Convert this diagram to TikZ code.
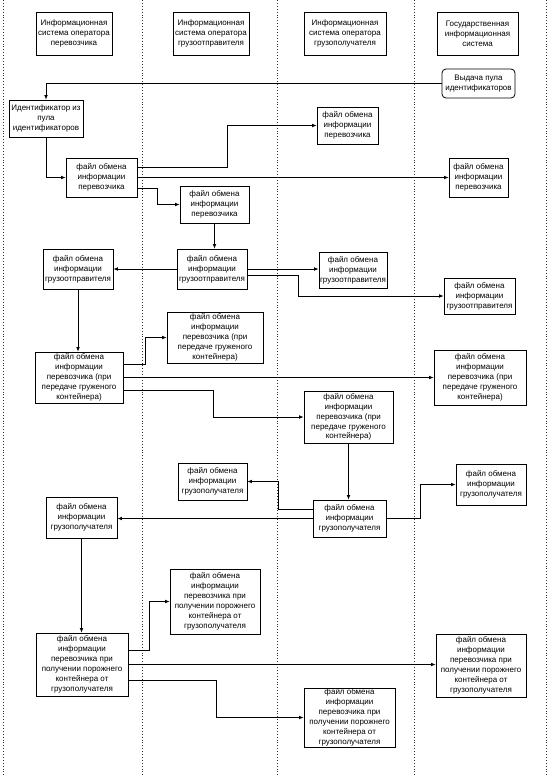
\documentclass[tikz,border=0pt]{standalone}
\usepackage{fontspec}
\setmainfont{Liberation Sans}
\usetikzlibrary{arrows.meta,calc}
\begin{document}
\begin{tikzpicture}[x=1pt,y=-1pt,
  box/.style={draw=black,line width=0.8pt,fill=white,inner sep=0pt,align=center,
    font=\fontsize{8pt}{9.9pt}\selectfont},
  rbox/.style={box,rounded corners=4pt},
  lane/.style={dotted,line width=0.9pt,black!80},
  arr/.style={line width=0.8pt,-{Latex[length=4.5pt,width=3.8pt]}},
  ln/.style={line width=0.8pt}]
\useasboundingbox (0,0) rectangle (552,782);
% lanes
\foreach \xx in {3,142,277,414,546} \draw[lane] (\xx,0) -- (\xx,775);
% headers
\node[box,minimum width=76pt,minimum height=43pt] (H1) at (74,33.5) {Информационная\\система оператора\\перевозчика};
\node[box,minimum width=76pt,minimum height=43pt] (H2) at (211,33.5) {Информационная\\система оператора\\грузоотправителя};
\node[box,minimum width=82pt,minimum height=43pt] (H3) at (345,33.5) {Информационная\\система оператора\\грузополучателя};
\node[box,minimum width=81pt,minimum height=43pt] (H4) at (477.5,33.5) {Государственная\\информационная\\система};
% nodes
\node[rbox,minimum width=73pt,minimum height=29pt] (G) at (478.5,83.5) {Выдача пула\\идентификаторов};
\node[box,minimum width=74pt,minimum height=37pt] (ID) at (46,118.5) {Идентификатор из\\пула\\идентификаторов};
\node[box,minimum width=71pt,minimum height=39pt] (A1) at (101.5,177.5) {файл обмена\\информации\\перевозчика};
\node[box,minimum width=61pt,minimum height=37pt] (B1) at (347.5,125.5) {файл обмена\\информации\\перевозчика};
\node[box,minimum width=59pt,minimum height=39pt] (D1) at (478.5,177.5) {файл обмена\\информации\\перевозчика};
\node[box,minimum width=69pt,minimum height=37pt] (C1) at (214.5,204.5) {файл обмена\\информации\\перевозчика};
\node[box,minimum width=70pt,minimum height=40pt] (C2) at (212,269) {файл обмена\\информации\\грузоотправителя};
\node[box,minimum width=70pt,minimum height=40pt] (A2) at (78,269) {файл обмена\\информации\\грузоотправителя};
\node[box,minimum width=68pt,minimum height=36pt] (B2) at (353,270) {файл обмена\\информации\\грузоотправителя};
\node[box,minimum width=71pt,minimum height=36pt] (D2) at (479.5,296) {файл обмена\\информации\\грузоотправителя};
\node[box,minimum width=88pt,minimum height=51pt] (A3) at (79,377.5) {файл обмена\\информации\\перевозчика (при\\передаче груженого\\контейнера)};
\node[box,minimum width=96pt,minimum height=51pt] (C3) at (215,337.5) {файл обмена\\информации\\перевозчика (при\\передаче груженого\\контейнера)};
\node[box,minimum width=92pt,minimum height=55pt] (D3) at (480,377.5) {файл обмена\\информации\\перевозчика (при\\передаче груженого\\контейнера)};
\node[box,minimum width=89pt,minimum height=52pt] (B3) at (348.5,417) {файл обмена\\информации\\перевозчика (при\\передаче груженого\\контейнера)};
\node[box,minimum width=73pt,minimum height=37pt] (B4) at (349.5,518.5) {файл обмена\\информации\\грузополучателя};
\node[box,minimum width=69pt,minimum height=37pt] (C4) at (212.5,481.5) {файл обмена\\информации\\грузополучателя};
\node[box,minimum width=71pt,minimum height=41pt] (A4) at (81.5,517.5) {файл обмена\\информации\\грузополучателя};
\node[box,minimum width=70pt,minimum height=41pt] (D4) at (491,484.5) {файл обмена\\информации\\грузополучателя};
\node[box,minimum width=92pt,minimum height=63pt] (A5) at (82,664.5) {файл обмена\\информации\\перевозчика при\\получении порожнего\\контейнера от\\грузополучателя};
\node[box,minimum width=90pt,minimum height=65pt] (C5) at (215,601.5) {файл обмена\\информации\\перевозчика при\\получении порожнего\\контейнера от\\грузополучателя};
\node[box,minimum width=90pt,minimum height=63pt] (D5) at (481,665.5) {файл обмена\\информации\\перевозчика при\\получении порожнего\\контейнера от\\грузополучателя};
\node[box,minimum width=91pt,minimum height=59pt] (B5) at (349.5,717.5) {файл обмена\\информации\\перевозчика при\\получении порожнего\\контейнера от\\грузополучателя};
% connectors
\draw[arr] (G.west) -| (ID.north);
\draw[arr] (ID.south) |- (A1.west);
\draw[arr] ([yshift=10.5pt]A1.east) -- ++(90,0) |- (B1.west);
\draw[arr] (A1.east) -- (D1.west);
\draw[arr] ([yshift=-10.5pt]A1.east) -- ++(20,0) |- (C1.west);
\draw[arr] (C1.south) -- (C1.south |- C2.north);
\draw[arr] (C2.west) -- (A2.east);
\draw[arr] (C2.east) -- (C2.east -| B2.west);
\draw[arr] ([yshift=-6pt]C2.east) -- ++(51,0) |- (D2.west);
\draw[arr] (A2.south) -- (A2.south |- A3.north);
\draw[arr] ([yshift=13.5pt]A3.east) -- ++(22,0) |- (C3.west);
\draw[arr] (A3.east) -- (D3.west);
\draw[arr] ([yshift=-12.5pt]A3.east) -- ++(90,0) |- (B3.west);
\draw[arr] (B3.south) -- (B3.south |- B4.north);
\draw[arr] ([yshift=9.5pt]B4.west) -- ++(-34,0) |- (C4.east);
\draw[arr] (B4.west) -- (B4.west -| A4.east);
\draw[arr] (B4.east) -- ++(34,0) |- (D4.west);
\draw[arr] (A4.south) -- (A4.south |- A5.north);
\draw[arr] ([yshift=14.5pt]A5.east) -- ++(21,0) |- (C5.west);
\draw[arr] (A5.east) -- (A5.east -| D5.west);
\draw[arr] ([yshift=-15.5pt]A5.east) -- ++(88,0) |- (B5.west);
\end{tikzpicture}
\end{document}
